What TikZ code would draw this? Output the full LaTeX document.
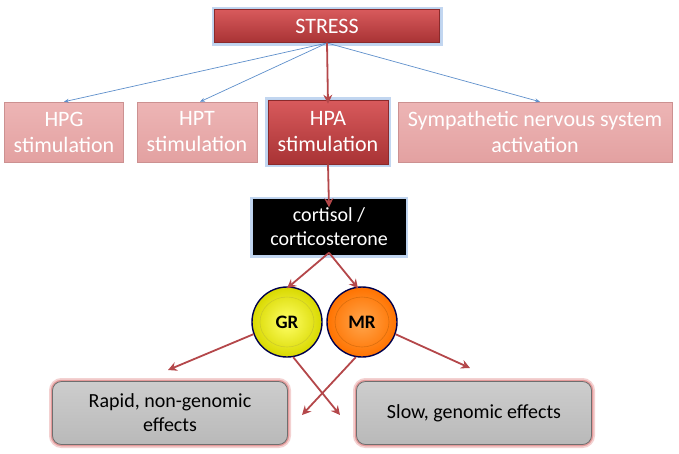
\documentclass[tikz,border=0pt]{standalone}
\usepackage{fontspec}
\setmainfont{Carlito}
\usetikzlibrary{arrows.meta,shadows}
\definecolor{redbox}{HTML}{C63C3E}
\definecolor{redtop}{HTML}{D85A5C}
\definecolor{pinkbox}{HTML}{E3A1A1}
\definecolor{pinktop}{HTML}{EDB5B5}
\definecolor{glowblue}{HTML}{8FB4E3}
\definecolor{glowred}{HTML}{E49A9A}
\definecolor{arrred}{HTML}{B4474A}
\definecolor{linblue}{HTML}{5E8FCB}
\definecolor{graybox}{HTML}{B9B9B9}
\definecolor{graytop}{HTML}{CDCDCD}
\tikzset{
  bluegl/.style={preaction={draw=glowblue,line width=6pt,opacity=0.55},preaction={draw=glowblue!60,line width=3pt}},
  redgl/.style={preaction={draw=glowred,line width=7pt,opacity=0.45},preaction={draw=glowred,line width=3.5pt}},
  darkbox/.style={rectangle,top color=redtop,bottom color=redbox!85!black,draw=redbox!70!black,line width=0.6pt,text=white,font=\fontsize{22}{26}\selectfont,align=center,inner sep=0pt},
  lightbox/.style={rectangle,top color=pinktop,bottom color=pinkbox,draw=pinkbox!90!black,line width=0.5pt,text=white,font=\fontsize{22}{26}\selectfont,align=center,inner sep=0pt},
  blackbox/.style={rectangle,fill=black,draw=black,text=white,font=\fontsize{20}{24}\selectfont,align=center,inner sep=0pt},
  effbox/.style={rectangle,rounded corners=9pt,top color=graytop,bottom color=graybox,draw=graybox!60!black,line width=0.8pt,text=black,font=\fontsize{20}{24}\selectfont,align=center,inner sep=0pt},
  rcirc/.style={circle,minimum size=70pt,inner sep=0pt,draw=black!70!blue,line width=1.4pt,font=\bfseries\fontsize{19}{21}\selectfont,text=black},
  redarr/.style={draw=arrred,line width=1.8pt,-{Stealth[length=9pt,width=9pt,inset=3pt]}},
  bluearr/.style={draw=linblue,line width=0.7pt,-{Stealth[length=5pt,width=4pt]}},
}
\begin{document}
\begin{tikzpicture}[x=1pt,y=-1pt]
\useasboundingbox (0,0) rectangle (679,453);
\node[darkbox,bluegl,minimum width=225pt,minimum height=33pt] (stress) at (327,26) {STRESS};
\node[lightbox,minimum width=119pt,minimum height=60pt] (hpg) at (64,132) {HPG\\stimulation};
\node[lightbox,minimum width=120pt,minimum height=60pt] (hpt) at (197,132) {HPT\\stimulation};
\node[darkbox,bluegl,minimum width=120pt,minimum height=64pt] (hpa) at (328,132) {HPA\\stimulation};
\node[lightbox,minimum width=274pt,minimum height=60pt] (sns) at (535,132) {Sympathetic nervous system\\activation};
\node[blackbox,bluegl,minimum width=152pt,minimum height=55pt] (cort) at (329,227) {cortisol /\\corticosterone};
\node[rcirc,inner color=yellow!60!white,outer color=yellow!85!black] (gr) at (287,322) {GR};
\node[rcirc,inner color=orange!70!white,outer color=orange!90!red] (mr) at (362,322) {MR};
\draw[yellow!60!black,opacity=0.35,line width=0.6pt] (gr.center) ellipse (27pt and 25pt);
\draw[orange!60!black,opacity=0.35,line width=0.6pt] (mr.center) ellipse (27pt and 25pt);
\node[effbox,redgl,minimum width=235pt,minimum height=63pt] (rapid) at (170,413) {Rapid, non-genomic\\effects};
\node[effbox,redgl,minimum width=235pt,minimum height=63pt] (slow) at (474,413) {Slow, genomic effects};
\coordinate (sb) at (327,43);
\draw[bluearr] (sb) -- (hpg.north);
\draw[bluearr] (sb) -- ([xshift=3pt]hpt.north);
\draw[bluearr] (sb) -- ([xshift=5pt]sns.north);
\draw[redarr] (stress.south) -- ([yshift=-4pt]hpa.north);
\draw[redarr] (hpa.south) -- ([yshift=-8pt]cort.north);
\draw[redarr] ([yshift=2pt]cort.south) -- ([yshift=-2pt]gr.north);
\draw[redarr] ([yshift=2pt]cort.south) -- ([xshift=-4pt,yshift=-2pt]mr.north);
\draw[redarr] (gr.200) -- (168,370);
\draw[redarr] (gr.-80) -- (340,415);
\draw[redarr] (mr.-100) -- (302,415);
\draw[redarr] (mr.-20) -- (470,368);
\end{tikzpicture}
\end{document}
